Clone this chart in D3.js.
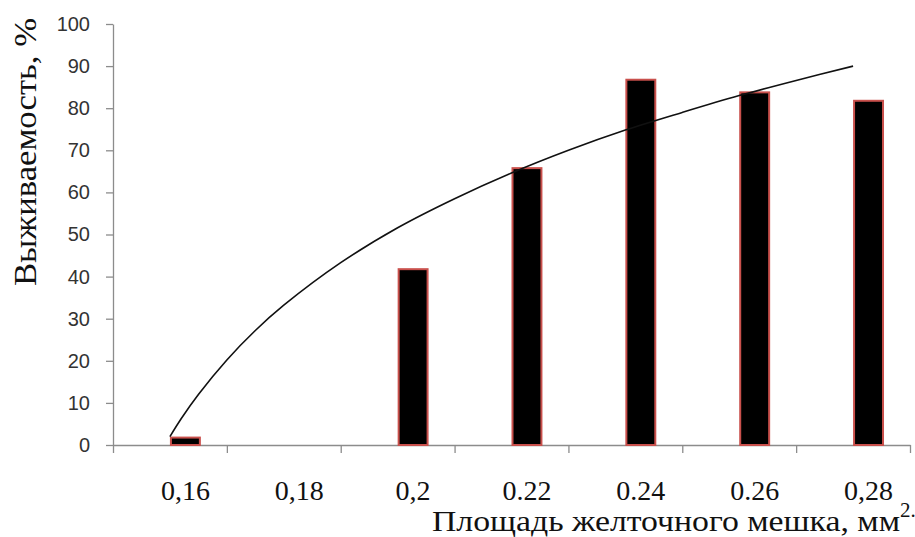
<!DOCTYPE html>
<html>
<head>
<meta charset="utf-8">
<script src="https://cdn.jsdelivr.net/npm/d3@7"></script>
<style>
  body { margin: 0; background: #fff; }
  svg { display: block; }
</style>
</head>
<body>
<div id="chart"></div>
<script>
// categories (yolk sac area) and their printed labels
const categories = ['0.16', '0.18', '0.2', '0.22', '0.24', '0.26', '0.28'];
const catLabels = ['0,16', '0,18', '0,2', '0.22', '0.24', '0.26', '0,28'];
// two series in the workbook, only the second one has values
const seriesNames = ['Ряд1', 'Ряд2'];
const survival = [2, 0, 42, 66, 87, 84, 82];
// trend line, x in category-index units
const trendX = [0, 0.1, 0.25, 0.5, 0.75, 1, 1.5, 2, 2.5, 3, 3.5, 4, 4.5, 5, 5.5, 6];
const trendY = [2, 6.3, 12, 20.2, 27.2, 33.2, 43.3, 51.6, 58.5, 64.6, 70, 74.8, 79, 83, 86.6, 90];
const yTicks = [0, 10, 20, 30, 40, 50, 60, 70, 80, 90, 100];

const width = 915;
const height = 537;
const plotLeft = 113, plotRight = 910, plotTop = 24, plotBottom = 445;

const svg = d3.select('#chart')
  .append('svg')
  .attr('width', width)
  .attr('height', height);

const x = d3.scaleBand()
  .domain(categories)
  .range([plotLeft, plotRight])
  .padding(0);

const xSub = d3.scaleBand()
  .domain(seriesNames)
  .range([0, x.bandwidth()])
  .paddingInner(0)
  .paddingOuter(0.84);

// category index -> band centre, for the trend curve and tick marks
const xIdx = d3.scaleLinear()
  .domain([-0.5, categories.length - 0.5])
  .range([plotLeft, plotRight]);

const y = d3.scaleLinear()
  .domain([0, 100])
  .range([plotBottom, plotTop]);

const axisColor = '#8c8c8c';

// y axis
const yAxis = svg.append('g')
  .attr('transform', `translate(${plotLeft},0)`)
  .call(d3.axisLeft(y).tickValues(yTicks).tickSize(7).tickSizeOuter(0).tickPadding(16));
yAxis.select('.domain').attr('stroke', axisColor).attr('stroke-width', 1.3);
yAxis.selectAll('.tick line').attr('stroke', axisColor).attr('stroke-width', 1.3);
yAxis.selectAll('.tick text')
  .attr('fill', '#333')
  .style('font-family', '"Liberation Sans", Arial, sans-serif')
  .style('font-size', '20px');

// x axis (ticks on category boundaries)
const xAxis = svg.append('g')
  .attr('transform', `translate(0,${plotBottom})`)
  .call(d3.axisBottom(xIdx)
    .tickValues(d3.range(categories.length + 1).map((i) => i - 0.5))
    .tickFormat('')
    .tickSize(8)
    .tickSizeOuter(0));
xAxis.select('.domain').attr('stroke', axisColor).attr('stroke-width', 1.3);
xAxis.selectAll('.tick line').attr('stroke', axisColor).attr('stroke-width', 1.3);

// bars
svg.append('g')
  .selectAll('rect')
  .data(survival.map((v, i) => ({ cat: categories[i], v })).filter((d) => d.v > 0))
  .join('rect')
  .attr('x', (d) => x(d.cat) + xSub('Ряд2') + 1)
  .attr('width', xSub.bandwidth() - 2)
  .attr('y', (d) => y(d.v) + 1)
  .attr('height', (d) => y(0) - y(d.v) - 1)
  .attr('fill', '#000')
  .attr('stroke', '#c9504c')
  .attr('stroke-width', 2);

// trend curve
const line = d3.line()
  .x((d) => xIdx(d[0]))
  .y((d) => y(d[1]))
  .curve(d3.curveCatmullRom.alpha(0.5));
svg.append('path')
  .datum(trendX.map((v, i) => [v, trendY[i]]))
  .attr('d', line)
  .attr('fill', 'none')
  .attr('stroke', '#111')
  .attr('stroke-width', 1.6);

// category labels under the bars
svg.append('g')
  .selectAll('text')
  .data(categories)
  .join('text')
  .attr('x', (d) => x(d) + xSub('Ряд2') + xSub.bandwidth() / 2)
  .attr('y', 500)
  .attr('text-anchor', 'middle')
  .style('font-family', '"Liberation Serif", "Times New Roman", serif')
  .style('font-size', '28px')
  .attr('fill', '#111')
  .text((d, i) => catLabels[i]);

// axis titles
svg.append('text')
  .attr('transform', 'translate(36,18) rotate(-90)')
  .attr('text-anchor', 'end')
  .attr('textLength', 268)
  .attr('lengthAdjust', 'spacingAndGlyphs')
  .style('font-family', '"Liberation Serif", "Times New Roman", serif')
  .style('font-size', '32px')
  .attr('fill', '#111')
  .text('Выживаемость, %');

const xTitle = svg.append('text')
  .attr('x', 432)
  .attr('y', 531)
  .style('font-family', '"Liberation Serif", "Times New Roman", serif')
  .style('font-size', '30px')
  .attr('fill', '#111');
xTitle.append('tspan')
  .attr('textLength', 468)
  .attr('lengthAdjust', 'spacingAndGlyphs')
  .text('Площадь желточного мешка, мм');
xTitle.append('tspan').attr('dy', -14).style('font-size', '21px').text('2.');
</script>
</body>
</html>
